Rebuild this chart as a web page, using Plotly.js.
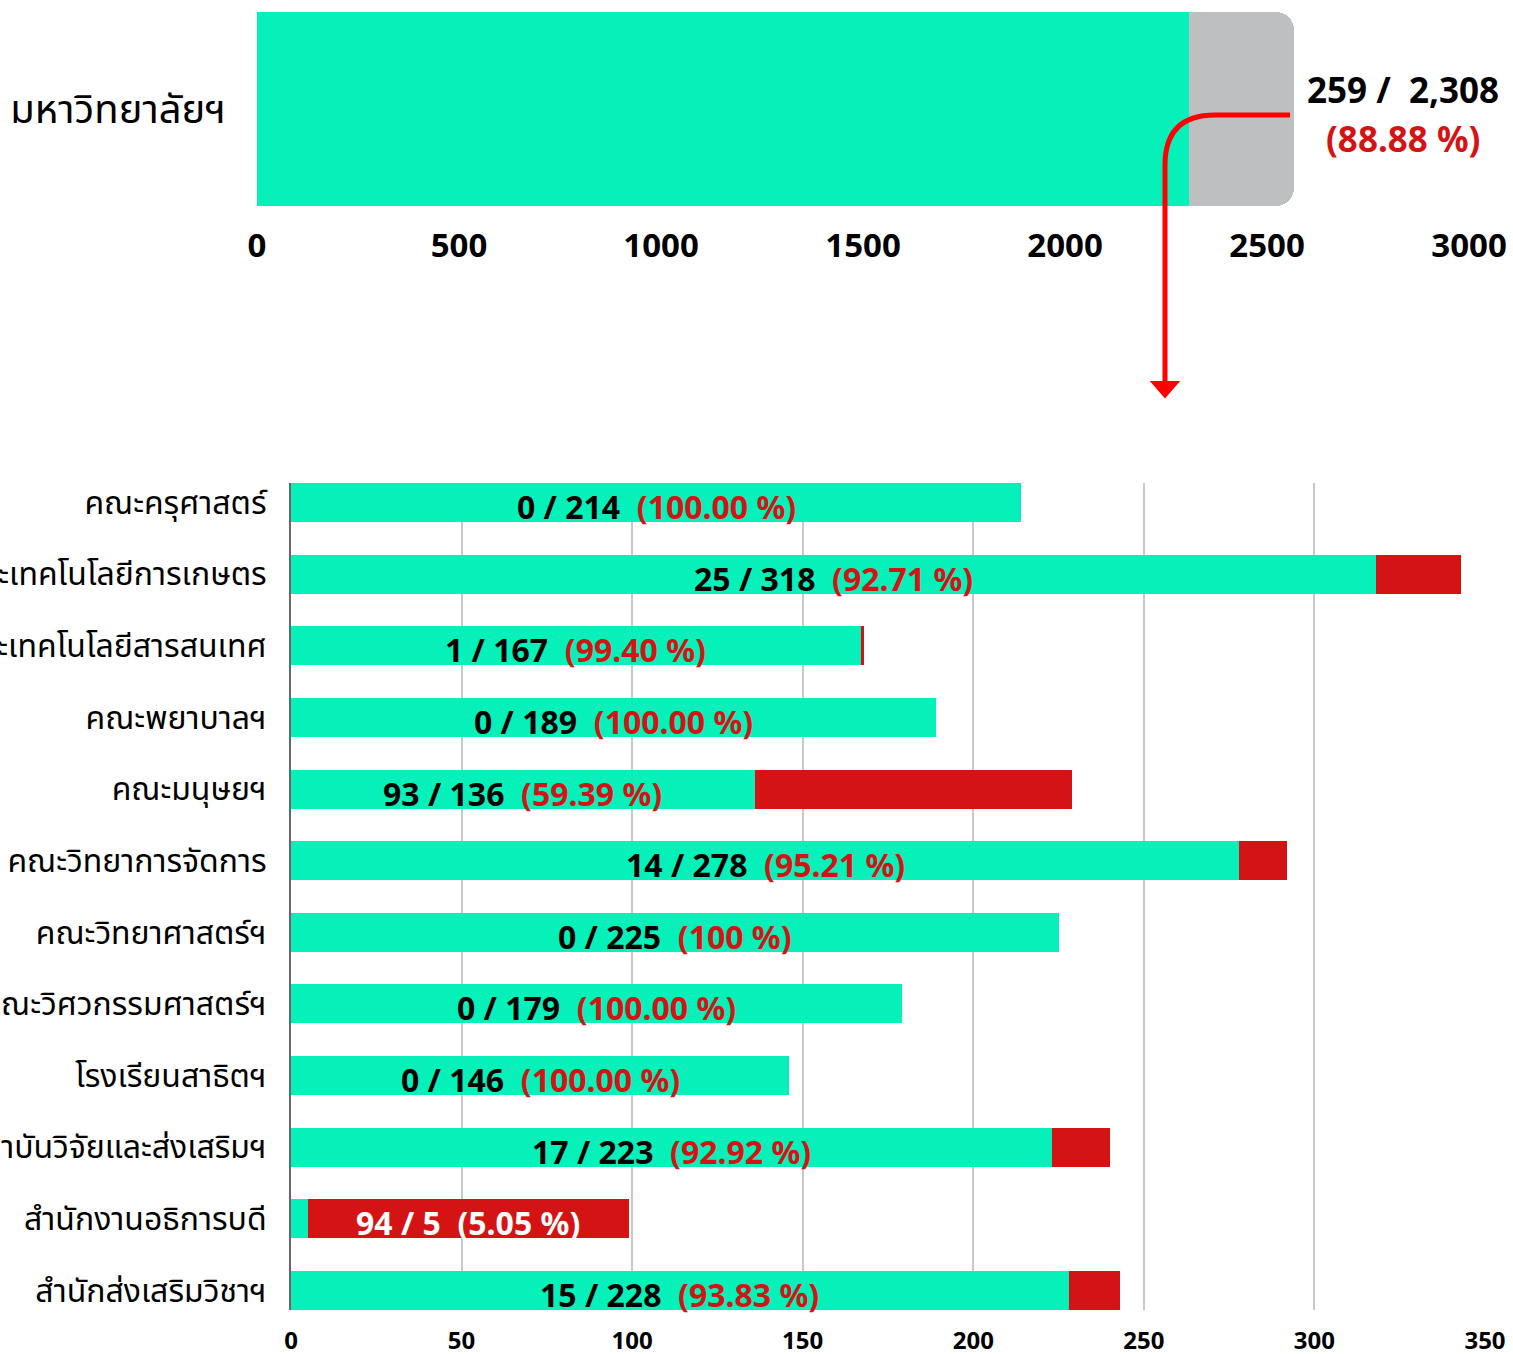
<!DOCTYPE html>
<html>
<head>
<meta charset="utf-8">
<script src="https://cdn.plot.ly/plotly-3.0.1.min.js"></script>
<style>html,body{margin:0;padding:0;background:#fff;}#chart{width:1513px;height:1354px;}</style>
</head>
<body>
<div id="chart"></div>
<script>
// ---- Data ----
const topCategory = ['มหาวิทยาลัยฯ'];
const topDone = [2308];
const topPending = [259];
const topPercent = ['88.88 %'];

const categories = [
  'คณะครุศาสตร์',
  'คณะเทคโนโลยีการเกษตร',
  'คณะเทคโนโลยีสารสนเทศ',
  'คณะพยาบาลฯ',
  'คณะมนุษยฯ',
  'คณะวิทยาการจัดการ',
  'คณะวิทยาศาสตร์ฯ',
  'คณะวิศวกรรมศาสตร์ฯ',
  'โรงเรียนสาธิตฯ',
  'สถาบันวิจัยและส่งเสริมฯ',
  'สำนักงานอธิการบดี',
  'สำนักส่งเสริมวิชาฯ'
];
const doneValues = [214, 318, 167, 189, 136, 278, 225, 179, 146, 223, 5, 228];
const pendingValues = [0, 25, 1, 0, 93, 14, 0, 0, 0, 17, 94, 15];
const percentLabels = ['100.00 %', '92.71 %', '99.40 %', '100.00 %', '59.39 %', '95.21 %', '100 %', '100.00 %', '100.00 %', '92.92 %', '5.05 %', '93.83 %'];

const topTicks = [0, 500, 1000, 1500, 2000, 2500, 3000];
const bottomTicks = [0, 50, 100, 150, 200, 250, 300, 350];

// ---- Styles ----
const GREEN = '#06F0B9';
const RED = '#D41414';
const GRAY = '#BEBFC1';
const FONT = '"Noto Sans", "Noto Sans Thai", "Open Sans", sans-serif';
const W = 1513, H = 1354;
const px = x => x / W;
const py = y => 1 - y / H;

const traces = [
  {type: 'bar', orientation: 'h', y: topCategory, x: topDone, xaxis: 'x', yaxis: 'y',
   marker: {color: GREEN, line: {width: 0}}, width: 1, hoverinfo: 'skip'},
  {type: 'bar', orientation: 'h', y: topCategory, x: topPending, xaxis: 'x', yaxis: 'y',
   marker: {color: GRAY, line: {width: 0}, cornerradius: 18}, width: 1, hoverinfo: 'skip'},
  {type: 'bar', orientation: 'h', y: categories, x: doneValues, xaxis: 'x2', yaxis: 'y2',
   marker: {color: GREEN, line: {width: 0}}, width: 0.544, hoverinfo: 'skip'},
  {type: 'bar', orientation: 'h', y: categories, x: pendingValues, xaxis: 'x2', yaxis: 'y2',
   marker: {color: RED, line: {width: 0}}, width: 0.544, hoverinfo: 'skip'}
];

const annotations = [];
// top label
annotations.push({xref: 'paper', yref: 'paper', x: px(1403), y: py(90), showarrow: false,
  text: '<b>' + topPending[0] + ' /  ' + topDone[0].toLocaleString('en-US') + '</b>',
  font: {family: FONT, size: 35, color: '#000'}, xanchor: 'center', yanchor: 'middle'});
annotations.push({xref: 'paper', yref: 'paper', x: px(1403), y: py(138), showarrow: false,
  text: '<b>(' + topPercent[0] + ')</b>',
  font: {family: FONT, size: 35, color: RED}, xanchor: 'center', yanchor: 'middle'});

// bottom bar labels
categories.forEach((c, i) => {
  const g = doneValues[i], r = pendingValues[i];
  const onRed = r > g;
  const xPos = onRed ? g + r / 2 : g / 2;
  const txt = onRed
    ? '<b>' + r + ' / ' + g + '  (' + percentLabels[i] + ')</b>'
    : '<b>' + r + ' / ' + g + '  <span style="color:' + RED + '">(' + percentLabels[i] + ')</span></b>';
  annotations.push({xref: 'x2', yref: 'y2', x: xPos, y: c, showarrow: false, text: txt,
    yshift: -4, font: {family: FONT, size: 32, color: onRed ? '#fff' : '#000'},
    xanchor: 'center', yanchor: 'middle'});
});

const shapes = [
  {type: 'path', xref: 'paper', yref: 'paper',
   path: `M ${px(1290)},${py(115)} L ${px(1215)},${py(115)} Q ${px(1165)},${py(115)} ${px(1165)},${py(165)} L ${px(1165)},${py(384)}`,
   line: {color: '#FF0000', width: 5}, fillcolor: 'rgba(0,0,0,0)'},
  {type: 'path', xref: 'paper', yref: 'paper',
   path: `M ${px(1152)},${py(382)} L ${px(1178)},${py(382)} L ${px(1165)},${py(397)} Z`,
   line: {color: '#FF0000', width: 2}, fillcolor: '#FF0000'}
];

const layout = {
  width: W, height: H,
  margin: {l: 0, r: 0, t: 0, b: 0},
  paper_bgcolor: '#fff', plot_bgcolor: 'rgba(0,0,0,0)',
  barmode: 'stack', showlegend: false,
  font: {family: FONT, color: '#000'},
  xaxis: {domain: [px(257), px(1469)], range: [0, 3000], tickvals: topTicks,
    ticktext: topTicks.map(String), showgrid: true, gridcolor: '#C8C8C8', gridwidth: 2,
    zeroline: false, showline: false, ticks: 'outside', ticklen: 10, tickcolor: 'rgba(0,0,0,0)',
    tickfont: {family: FONT, size: 33, color: '#000', weight: 'bold'}, anchor: 'y', fixedrange: true},
  yaxis: {domain: [py(206), py(12)], range: [-0.5, 0.5], type: 'category',
    showgrid: false, zeroline: false, showline: false, ticks: 'outside', ticklen: 22,
    tickcolor: 'rgba(0,0,0,0)', tickfont: {family: FONT, size: 40, color: '#000'}, anchor: 'x', fixedrange: true},
  xaxis2: {domain: [px(291), px(1485)], range: [0, 350], tickvals: bottomTicks,
    ticktext: bottomTicks.map(String), showgrid: true, gridcolor: '#C8C8C8', gridwidth: 2,
    zeroline: false, showline: false, ticks: 'outside', ticklen: 9, tickcolor: 'rgba(0,0,0,0)',
    tickfont: {family: FONT, size: 24, color: '#000', weight: 'bold'}, anchor: 'y2', fixedrange: true},
  yaxis2: {domain: [py(1310), py(483)], range: [11.272, -0.272], type: 'category',
    categoryorder: 'array', categoryarray: categories,
    showgrid: false, zeroline: false, showline: true, linecolor: '#666', linewidth: 2,
    ticks: 'outside', ticklen: 16, tickcolor: 'rgba(0,0,0,0)',
    tickfont: {family: FONT, size: 32, color: '#000'}, anchor: 'x2', fixedrange: true},
  annotations: annotations,
  shapes: shapes
};

Plotly.newPlot('chart', traces, layout, {displayModeBar: false, staticPlot: true});
</script>
</body>
</html>
